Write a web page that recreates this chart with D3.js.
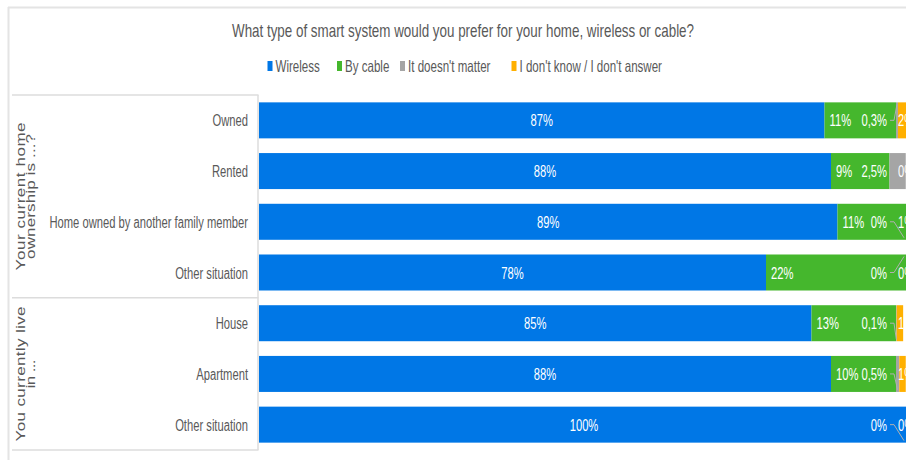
<!DOCTYPE html>
<html>
<head>
<meta charset="utf-8">
<script src="https://cdn.jsdelivr.net/npm/d3@7"></script>
<style>
  html, body { margin: 0; padding: 0; background: #fff; }
  svg { display: block; }
</style>
</head>
<body>
<svg id="chart" width="906" height="460"></svg>
<script>
// Survey: preferred smart-home system type, by housing situation
const titleText = "What type of smart system would you prefer for your home, wireless or cable?";
const categories = ["Owned", "Rented", "Home owned by another family member", "Other situation",
                    "House", "Apartment", "Other situation"];
const groupLabels = [["Your current home", "ownership is ...?"], ["You currently live", "in ..."]];
const groupSizes = [4, 3];
const seriesNames = ["Wireless", "By cable", "It doesn't matter", "I don't know / I don't answer"];
const wireless = [87, 88, 89, 78, 85, 88, 100];
const byCable  = [11, 9, 11, 22, 13, 10, 0];
const noMatter = [0.3, 2.5, 0, 0, 0.1, 0.5, 0];
const dontKnow = [2, 0, 1, 0, 1, 1, 0];

const colors = ["#0077e6", "#45b72d", "#a5a5a5", "#ffb000"];
const textGrey = "#595959";
const W = 906, H = 460;
const FONT = "'Liberation Sans', Arial, Helvetica, sans-serif";
const SQUEEZE = 0.7;   // condensed look: glyphs compressed horizontally

const svg = d3.select("#chart").attr("font-family", FONT);

function narrow(sel) {
  sel.each(function () {
    const w = this.getComputedTextLength();
    if (w > 0) d3.select(this).attr("textLength", w * SQUEEZE).attr("lengthAdjust", "spacingAndGlyphs");
  });
  return sel;
}

// outer frame
svg.append("line").attr("x1", 8).attr("x2", 906).attr("y1", 7.5).attr("y2", 7.5)
  .attr("stroke", "#e4e4e4").attr("stroke-width", 2);
svg.append("line").attr("x1", 8.5).attr("x2", 8.5).attr("y1", 7).attr("y2", H)
  .attr("stroke", "#e4e4e4").attr("stroke-width", 2);

// title
svg.append("text").attr("x", 463).attr("y", 37).attr("text-anchor", "middle")
  .attr("font-size", 18.5).attr("fill", textGrey).text(titleText)
  .attr("textLength", 462).attr("lengthAdjust", "spacingAndGlyphs");

// scales
const x = d3.scaleLinear().domain([0, 100]).range([259, 909]);
const y = d3.scaleBand().domain(d3.range(categories.length)).range([95, 450])
  .paddingInner(0.29).paddingOuter(0.145);

// legend
const legendX = [267.5, 337, 400, 511.5];
const legend = svg.append("g").selectAll("g").data(seriesNames).join("g")
  .attr("transform", (d, i) => `translate(${legendX[i]},66)`);
legend.append("rect").attr("x", 0).attr("y", -5).attr("width", 5).attr("height", 10)
  .attr("fill", (d, i) => colors[i]);
legend.append("text").attr("x", 8).attr("y", 5.5).attr("font-size", 16.5)
  .attr("fill", textGrey).text(d => d).call(narrow);

// stacked data
const table = categories.map((c, i) => ({
  i, values: [wireless[i], byCable[i], noMatter[i], dontKnow[i]]
}));
const segments = [];
table.forEach(row => {
  let acc = 0;
  row.values.forEach((v, k) => {
    segments.push({ row: row.i, k, v, x0: acc, x1: acc + v });
    acc += v;
  });
});

// bars
svg.append("g").selectAll("rect").data(segments.filter(s => s.v > 0)).join("rect")
  .attr("x", s => x(s.x0))
  .attr("y", s => y(s.row))
  .attr("width", s => x(s.x1) - x(s.x0))
  .attr("height", y.bandwidth())
  .attr("fill", s => colors[s.k]);

// category axis table
const axisG = svg.append("g");
const boxLine = "#dcdcdc";
let start = 0;
const bounds = [95];
groupSizes.forEach(n => {
  start += n;
  bounds.push(start === categories.length ? 450 : y(start) - y.step() * y.paddingInner() / 2);
});
bounds.forEach(b => axisG.append("line").attr("x1", 12).attr("x2", 258.5)
  .attr("y1", b).attr("y2", b).attr("stroke", boxLine).attr("stroke-width", 1.5));
axisG.append("line").attr("x1", 258).attr("x2", 258).attr("y1", 95).attr("y2", 450)
  .attr("stroke", boxLine).attr("stroke-width", 1.5);

axisG.selectAll("text.cat").data(categories).join("text").attr("class", "cat")
  .attr("x", 248).attr("y", (d, i) => y(i) + y.bandwidth() / 2 + 6)
  .attr("text-anchor", "end").attr("font-size", 16).attr("fill", textGrey)
  .text(d => d).call(narrow);

// rotated group titles (compressed across the glyph height like the rest)
const groupLen = [[148, 125], [135, 29]];
groupLabels.forEach((lines, g) => {
  const cy = (bounds[g] + bounds[g + 1]) / 2;
  lines.forEach((line, j) => {
    const bx = 24.5 + j * 10;
    axisG.append("text")
      .attr("transform", `translate(${bx},${cy}) scale(${SQUEEZE},1) rotate(-90)`)
      .attr("text-anchor", "middle").attr("font-size", 17)
      .attr("fill", textGrey).text(line)
      .attr("textLength", groupLen[g][j]).attr("lengthAdjust", "spacing");
  });
});

// value labels: wireless centred, cable at the bar base, small shares gathered at the right end
const fmt = v => String(v).replace(".", ",") + "%";
const labelX = s => {
  if (s.k === 0) return (x(s.x0) + x(s.x1)) / 2;
  if (s.k === 1) return x(s.x0) + 5;
  if (s.k === 2) return x(100) - 22;
  return x(100) - 11;
};
const anchor = s => ["middle", "start", "end", "start"][s.k];
const labels = segments.filter(s => labelX(s) < W - 4);
svg.append("g").selectAll("text").data(labels).join("text")
  .attr("x", labelX)
  .attr("y", s => y(s.row) + y.bandwidth() / 2 + 6)
  .attr("text-anchor", anchor)
  .attr("font-size", 16).attr("fill", "#fff")
  .text(s => fmt(s.v)).call(narrow);

// leader lines for slivers of "It doesn't matter"
const leaders = segments.filter(s => s.k === 2 && x(s.x1) - x(s.x0) < 6);
svg.append("g").selectAll("polyline").data(leaders).join("polyline")
  .attr("fill", "none").attr("stroke", "#b0b0b0").attr("stroke-width", 1)
  .attr("points", s => {
    const lx = x(100) - 19, my = y(s.row) + y.bandwidth() / 2;
    const tx = Math.min((x(s.x0) + x(s.x1)) / 2, W - 2);
    const up = s.row % 3 === 0 && s.row < 6;
    const ty = up ? y(s.row) + 2 : y(s.row) + y.bandwidth() - 2;
    return [[lx, my], [lx + 4, my], [tx, ty]].map(p => p.join(",")).join(" ");
  });
</script>
</body>
</html>
